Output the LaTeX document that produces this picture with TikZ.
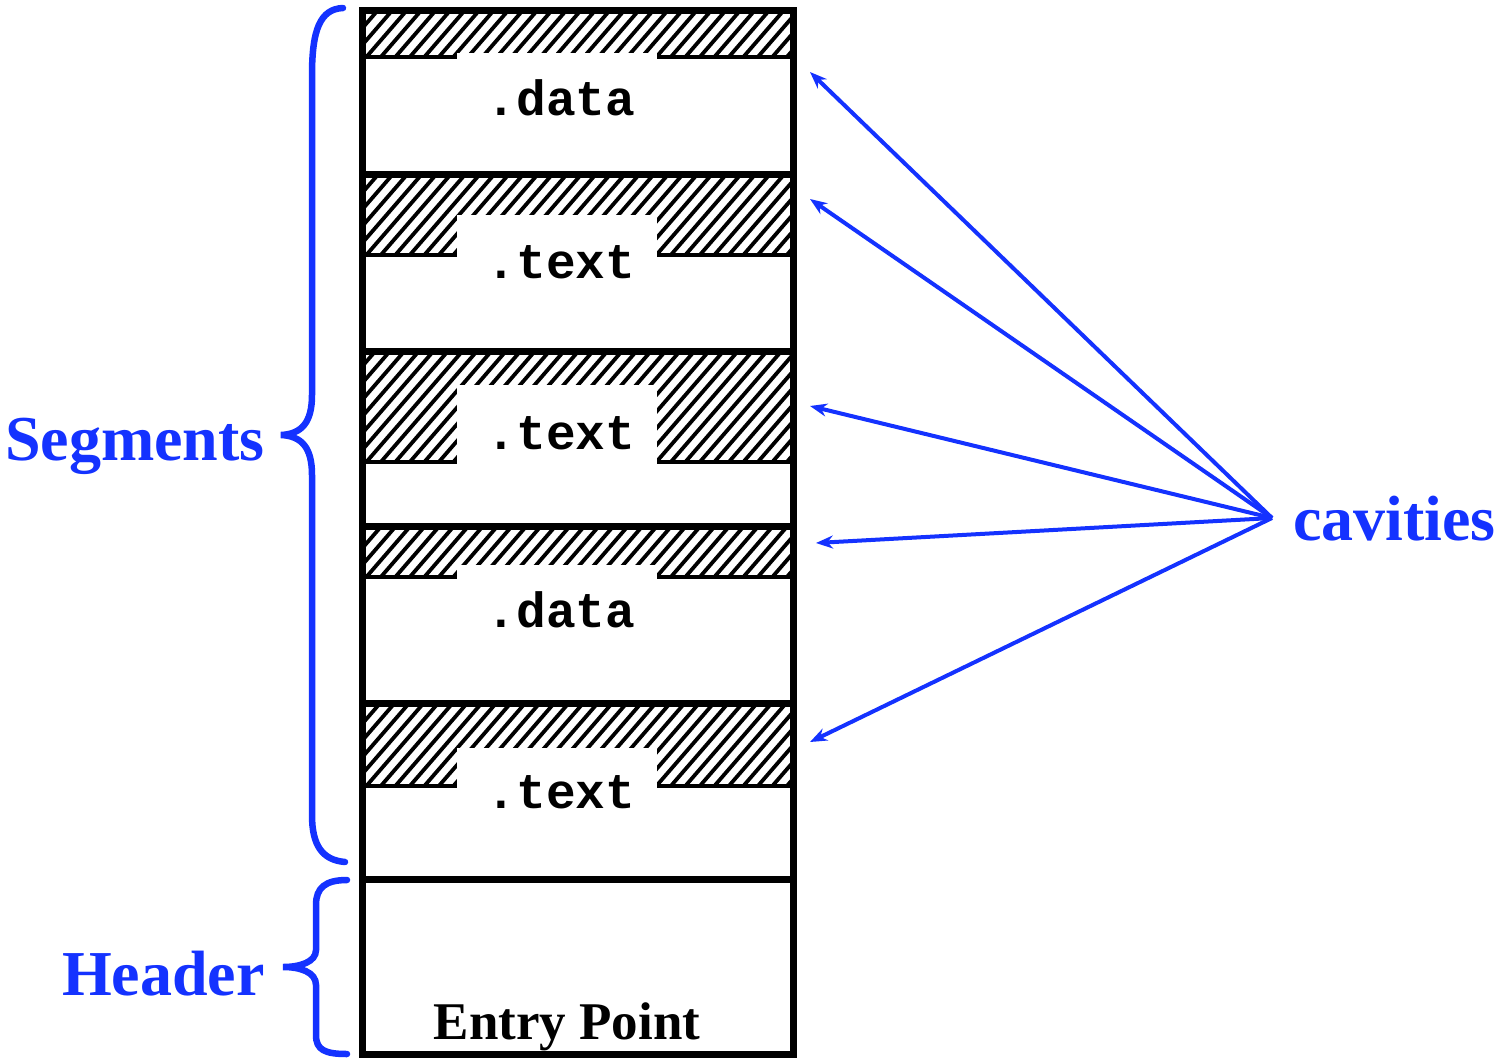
\documentclass[tikz,border=0pt]{standalone}
\usepackage{fontspec}
\setmainfont{Liberation Serif}
\newfontfamily\segmono{Liberation Mono}
\usetikzlibrary{arrows.meta}
\definecolor{bblue}{RGB}{20,50,255}
\begin{document}
\begin{tikzpicture}[x=1pt,y=-1pt,
  seglbl/.style={font=\segmono\bfseries\fontsize{49.5}{50}\selectfont, inner sep=0pt, anchor=base},
  bluelbl/.style={text=bblue, font=\bfseries\fontsize{64}{64}\selectfont, inner sep=0pt},
  hatchline/.style={line width=3.8pt},
  boxframe/.style={line width=7pt},
  hatchbase/.style={line width=3.3pt},
  bracestyle/.style={draw=bblue, line width=6.5pt, line cap=round},
  cavarrow/.style={draw=bblue, line width=4pt, -{Stealth[length=17pt,width=13pt]}}]
\useasboundingbox (0,0) rectangle (1499,1060);
\fill[white] (0,0) rectangle (1499,1060);

% hatched cavities
\foreach \yt/\yh/\yb in {11/57/53, 174/255/215, 351/462/385, 526/577/565, 703/786/748}{
  \begin{scope}
    \clip (362,\yt) rectangle (793,\yh);
    \foreach \k in {-12,...,33}
      \draw[hatchline] (362+\k*14.5,\yh+5) -- ++(130,-150);
  \end{scope}
  \draw[hatchbase] (362,\yh) -- (793,\yh);
  \fill[white] (457,\yb) rectangle (657,\yh+3);
}

% frame and dividers
\draw[boxframe] (362.5,10) rectangle (793,1054);
\foreach \yd in {174,351,526.5,703.5,879.5}
  \draw[boxframe] (362.5,\yd) -- (793,\yd);

% section labels
\node[seglbl] (s1) at (561,115) {.data};
\node[seglbl] (s2) at (561,278) {.text};
\node[seglbl] (s3) at (561,449) {.text};
\node[seglbl] (s4) at (561,627) {.data};
\node[seglbl] (s5) at (561,808) {.text};
\node[inner sep=0pt, anchor=base, font=\bfseries\fontsize{53}{53}\selectfont] (entry) at (567,1039) {Entry Point};

% braces
\draw[bracestyle] (343,8) .. controls (320,9) and (312,30) .. (312,75) -- (312,395)
  .. controls (312,422) and (302,434) .. (281,435)
  .. controls (302,436) and (312,448) .. (312,475) -- (312,815)
  .. controls (312,845) and (322,860) .. (345,862);
\draw[bracestyle] (347,880) .. controls (325,880) and (316,888) .. (316,905) -- (316,950)
  .. controls (316,962) and (300,967) .. (283,967)
  .. controls (300,967) and (316,972) .. (316,985) -- (316,1035)
  .. controls (316,1050) and (325,1054) .. (347,1054);

\node[bluelbl, anchor=base east] (segments) at (265,460) {Segments};
\node[bluelbl, anchor=base east] (header) at (265,995) {Header};
\node[bluelbl, anchor=base west] (cavities) at (1293,540) {cavities};

% arrows
\coordinate (hub) at (1272,518);
\coordinate (t1) at (810,72);
\coordinate (t2) at (810,199);
\coordinate (t3) at (810,406);
\coordinate (t4) at (816,543);
\coordinate (t5) at (810,742);
\foreach \t in {t1,t2,t3,t4,t5}
  \draw[cavarrow] (hub) -- (\t);
\end{tikzpicture}
\end{document}
